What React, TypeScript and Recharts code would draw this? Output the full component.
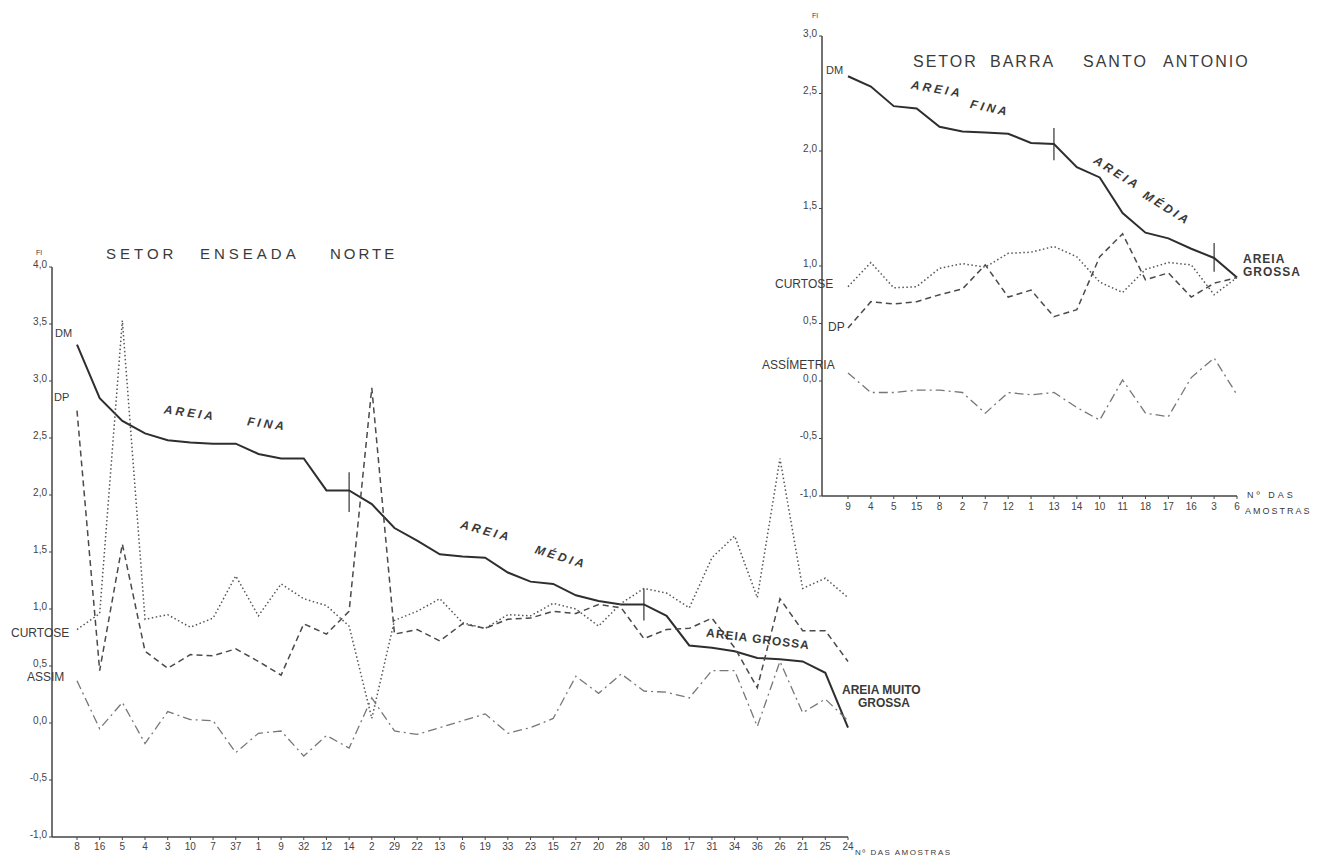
import React from 'react';
import { LineChart, Line, XAxis, YAxis, ReferenceLine } from 'recharts';

// Setor Enseada Norte
const norteSamples = ['8', '16', '5', '4', '3', '10', '7', '37', '1', '9', '32', '12', '14', '2', '29', '22', '13', '6', '19', '33', '23', '15', '27', '20', '28', '30', '18', '17', '31', '34', '36', '26', '21', '25', '24'];
const norteDM = [3.32, 2.85, 2.65, 2.54, 2.48, 2.46, 2.45, 2.45, 2.36, 2.32, 2.32, 2.04, 2.04, 1.92, 1.71, 1.6, 1.48, 1.46, 1.45, 1.32, 1.24, 1.22, 1.12, 1.07, 1.04, 1.04, 0.94, 0.68, 0.66, 0.63, 0.57, 0.56, 0.54, 0.44, -0.04];
const norteDP = [2.74, 0.46, 1.57, 0.63, 0.48, 0.6, 0.59, 0.65, 0.54, 0.42, 0.87, 0.78, 0.98, 2.94, 0.78, 0.82, 0.72, 0.87, 0.83, 0.91, 0.92, 0.98, 0.96, 1.04, 1.01, 0.74, 0.82, 0.83, 0.92, 0.66, 0.31, 1.09, 0.81, 0.81, 0.54];
const norteCurtose = [0.82, 0.96, 3.53, 0.91, 0.95, 0.84, 0.92, 1.29, 0.94, 1.22, 1.09, 1.03, 0.85, 0.04, 0.9, 0.98, 1.09, 0.88, 0.83, 0.95, 0.94, 1.05, 1.0, 0.85, 1.05, 1.18, 1.14, 1.01, 1.45, 1.64, 1.1, 2.32, 1.18, 1.27, 1.1];
const norteAssim = [0.37, -0.05, 0.18, -0.18, 0.1, 0.03, 0.02, -0.26, -0.09, -0.07, -0.29, -0.11, -0.22, 0.22, -0.07, -0.1, -0.04, 0.02, 0.08, -0.09, -0.04, 0.04, 0.41, 0.26, 0.43, 0.28, 0.27, 0.22, 0.46, 0.46, -0.03, 0.54, 0.09, 0.21, 0.02];
const norteTicks = [-1, -0.5, 0, 0.5, 1, 1.5, 2, 2.5, 3, 3.5, 4];

// Setor Barra Santo Antonio
const barraSamples = ['9', '4', '5', '15', '8', '2', '7', '12', '1', '13', '14', '10', '11', '18', '17', '16', '3', '6'];
const barraDM = [2.65, 2.56, 2.39, 2.37, 2.21, 2.17, 2.16, 2.15, 2.07, 2.06, 1.86, 1.77, 1.46, 1.29, 1.24, 1.15, 1.07, 0.9];
const barraDP = [0.46, 0.69, 0.67, 0.69, 0.75, 0.8, 1.01, 0.73, 0.79, 0.56, 0.62, 1.08, 1.28, 0.88, 0.94, 0.73, 0.85, 0.9];
const barraCurtose = [0.82, 1.03, 0.81, 0.82, 0.98, 1.02, 0.99, 1.11, 1.12, 1.17, 1.08, 0.86, 0.77, 0.97, 1.03, 1.01, 0.75, 0.9];
const barraAssim = [0.07, -0.1, -0.1, -0.08, -0.08, -0.1, -0.28, -0.1, -0.12, -0.1, -0.23, -0.34, 0.01, -0.28, -0.31, 0.03, 0.2, -0.12];
const barraTicks = [-1, -0.5, 0, 0.5, 1, 1.5, 2, 2.5, 3];

const norteData = norteSamples.map((s, i) => ({
  s,
  dm: norteDM[i],
  dp: norteDP[i],
  curtose: norteCurtose[i],
  assim: norteAssim[i],
}));

const barraData = barraSamples.map((s, i) => ({
  s,
  dm: barraDM[i],
  dp: barraDP[i],
  curtose: barraCurtose[i],
  assim: barraAssim[i],
}));

const FONT = '"Liberation Sans", "DejaVu Sans", Arial, sans-serif';
const INK = '#3a3a3a';
const fmt = (v: number) => v.toFixed(1).replace('.', ',');

const Txt = ({ x, y, size = 12, rot = 0, center = false, bold = false, italic = false, spacing = 0, children }: any) => (
  <div
    style={{
      position: 'absolute',
      left: x,
      top: y,
      fontSize: size,
      lineHeight: 1,
      whiteSpace: 'nowrap',
      color: INK,
      fontFamily: FONT,
      fontWeight: bold ? 700 : 400,
      fontStyle: italic ? 'italic' : 'normal',
      letterSpacing: spacing,
      transform: `translate(${center ? '-50%' : '0'}, -50%) rotate(${rot}deg)`,
      zIndex: 2,
    }}
  >
    {children}
  </div>
);

const series = (keyPrefix: string) => [
  <Line key={keyPrefix + 'dm'} type="linear" dataKey="dm" stroke="#2e2e2e" strokeWidth={2} dot={false} isAnimationActive={false} />,
  <Line key={keyPrefix + 'dp'} type="linear" dataKey="dp" stroke="#4a4a4a" strokeWidth={1.5} strokeDasharray="6 4" dot={false} isAnimationActive={false} />,
  <Line key={keyPrefix + 'cu'} type="linear" dataKey="curtose" stroke="#555" strokeWidth={1.5} strokeDasharray="1.5 2.5" dot={false} isAnimationActive={false} />,
  <Line key={keyPrefix + 'as'} type="linear" dataKey="assim" stroke="#777" strokeWidth={1.3} strokeDasharray="9 4 2 4" dot={false} isAnimationActive={false} />,
];

export default function App() {
  return (
    <div style={{ position: 'absolute', left: 0, top: 0, width: 1317, height: 858, background: '#fff', overflow: 'hidden' }}>
      <div style={{ position: 'absolute', left: 0, top: 0 }}>
        <LineChart width={870} height={858} data={norteData} margin={{ top: 267, right: 22, bottom: 0, left: 10 }}>
          <XAxis
            dataKey="s"
            interval={0}
            height={21}
            padding={{ left: 25, right: 0 }}
            tick={{ fontSize: 10, fill: '#444', fontFamily: FONT }}
            tickSize={3}
            tickMargin={3}
            stroke="#444"
            axisLine={{ stroke: '#444', strokeWidth: 1.5 }}
          />
          <YAxis
            type="number"
            domain={[-1, 4]}
            ticks={norteTicks}
            tickFormatter={fmt}
            width={42}
            tick={{ fontSize: 10, fill: '#444', fontFamily: FONT, dy: -3 }}
            tickSize={3}
            tickMargin={2}
            stroke="#444"
            axisLine={{ stroke: '#444', strokeWidth: 1.5 }}
          />
          <ReferenceLine segment={[{ x: '14', y: 1.85 }, { x: '14', y: 2.2 }]} stroke="#333" strokeWidth={1.2} />
          <ReferenceLine segment={[{ x: '30', y: 0.9 }, { x: '30', y: 1.18 }]} stroke="#333" strokeWidth={1.2} />
          {series('n')}
        </LineChart>
      </div>

      <div style={{ position: 'absolute', left: 780, top: 0 }}>
        <LineChart width={467} height={521} data={barraData} margin={{ top: 36, right: 10, bottom: 0, left: 10 }}>
          <XAxis
            dataKey="s"
            interval={0}
            height={25}
            padding={{ left: 26, right: 0 }}
            tick={{ fontSize: 10, fill: '#444', fontFamily: FONT }}
            tickSize={3}
            tickMargin={4}
            stroke="#444"
            axisLine={{ stroke: '#444', strokeWidth: 1.5 }}
          />
          <YAxis
            type="number"
            domain={[-1, 3]}
            ticks={barraTicks}
            tickFormatter={fmt}
            width={32}
            tick={{ fontSize: 10, fill: '#444', fontFamily: FONT, dy: -3 }}
            tickSize={3}
            tickMargin={2}
            stroke="#444"
            axisLine={{ stroke: '#444', strokeWidth: 1.5 }}
          />
          <ReferenceLine segment={[{ x: '13', y: 1.92 }, { x: '13', y: 2.2 }]} stroke="#333" strokeWidth={1.2} />
          <ReferenceLine segment={[{ x: '3', y: 0.95 }, { x: '3', y: 1.2 }]} stroke="#333" strokeWidth={1.2} />
          {series('b')}
        </LineChart>
      </div>

      {/* Setor Enseada Norte labels */}
      <Txt x={36} y={252} size={7}>FI</Txt>
      <Txt x={106} y={253} size={15} spacing={4}>SETOR</Txt>
      <Txt x={200} y={253} size={15} spacing={4}>ENSEADA</Txt>
      <Txt x={330} y={253} size={15} spacing={3}>NORTE</Txt>
      <Txt x={55} y={333} size={11}>DM</Txt>
      <Txt x={54} y={397} size={11}>DP</Txt>
      <Txt x={11} y={633} size={12}>CURTOSE</Txt>
      <Txt x={27} y={677} size={12}>ASSIM</Txt>
      <Txt x={190} y={413} size={12} rot={8} center bold italic spacing={3}>AREIA</Txt>
      <Txt x={267} y={424} size={12} rot={8} center bold italic spacing={3}>FINA</Txt>
      <Txt x={486} y={531} size={12} rot={15} center bold italic spacing={3}>AREIA</Txt>
      <Txt x={561} y={557} size={12} rot={17} center bold italic spacing={3}>MÉDIA</Txt>
      <Txt x={758} y={639} size={12} rot={7} center bold spacing={1}>AREIA GROSSA</Txt>
      <Txt x={842} y={690} size={12} bold>AREIA MUITO</Txt>
      <Txt x={858} y={703} size={12} bold>GROSSA</Txt>
      <Txt x={855} y={853} size={8} spacing={1.5}>Nº DAS AMOSTRAS</Txt>

      {/* Setor Barra Santo Antonio labels */}
      <Txt x={812} y={15} size={7}>FI</Txt>
      <Txt x={913} y={62} size={16} spacing={2}>SETOR</Txt>
      <Txt x={990} y={62} size={16} spacing={2}>BARRA</Txt>
      <Txt x={1083} y={62} size={16} spacing={2}>SANTO</Txt>
      <Txt x={1163} y={62} size={16} spacing={2}>ANTONIO</Txt>
      <Txt x={826} y={70} size={11}>DM</Txt>
      <Txt x={937} y={89} size={12} rot={10} center bold italic spacing={3}>AREIA</Txt>
      <Txt x={990} y={108} size={12} rot={12} center bold italic spacing={3}>FINA</Txt>
      <Txt x={1117} y={173} size={12} rot={32} center bold italic spacing={3}>AREIA</Txt>
      <Txt x={1167} y={208} size={12} rot={32} center bold italic spacing={3}>MÉDIA</Txt>
      <Txt x={1243} y={259} size={12} bold spacing={1}>AREIA</Txt>
      <Txt x={1243} y={272} size={12} bold spacing={1}>GROSSA</Txt>
      <Txt x={775} y={284} size={12}>CURTOSE</Txt>
      <Txt x={828} y={327} size={12}>DP</Txt>
      <Txt x={762} y={365} size={12}>ASSÍMETRIA</Txt>
      <Txt x={1247} y={495} size={9} spacing={3}>Nº DAS</Txt>
      <Txt x={1245} y={511} size={9} spacing={2}>AMOSTRAS</Txt>
    </div>
  );
}
